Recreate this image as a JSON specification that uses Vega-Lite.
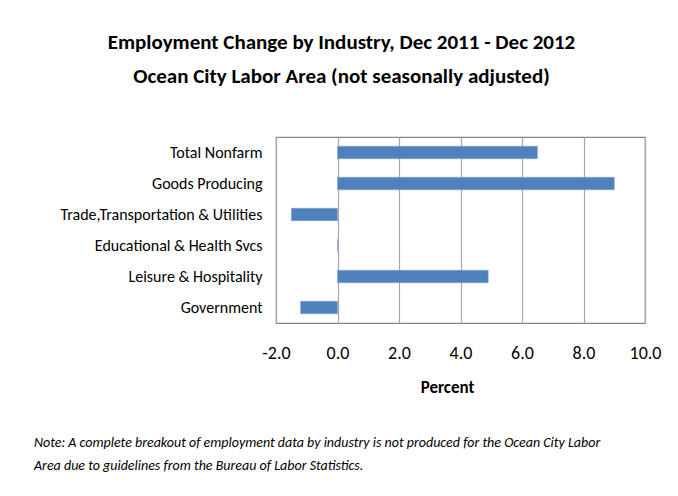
{
  "$schema": "https://vega.github.io/schema/vega-lite/v6.json",
  "background": "white",
  "padding": {"left": 33, "top": 32, "right": 30, "bottom": 10},
  "title": {
    "text": ["Employment Change by Industry, Dec 2011 - Dec 2012", "Ocean City Labor Area (not seasonally adjusted)"],
    "font": "Carlito, 'Liberation Sans Narrow', Lato, sans-serif",
    "fontSize": 21,
    "fontWeight": "bold",
    "color": "#000000",
    "lineHeight": 34,
    "anchor": "middle",
    "dx": -6,
    "offset": 49
  },
  "vconcat": [
    {
      "width": 369,
      "height": 186,
      "title": {
        "text": ["Note: A complete breakout of employment data by industry is not produced for the Ocean City Labor", "Area due to guidelines from the Bureau of Labor Statistics."],
        "orient": "bottom",
        "anchor": "start",
        "frame": "group",
        "dx": -242,
        "offset": 41,
        "font": "Carlito, 'Liberation Sans Narrow', Lato, sans-serif",
        "fontSize": 14,
        "fontStyle": "italic",
        "fontWeight": "normal",
        "color": "#000000",
        "lineHeight": 23
      },
      "data": {
        "values": [
          {"industry": "Total Nonfarm", "pct": 6.5},
          {"industry": "Goods Producing", "pct": 9.0},
          {"industry": "Trade,Transportation & Utilities", "pct": -1.5},
          {"industry": "Educational & Health Svcs", "pct": 0.0},
          {"industry": "Leisure & Hospitality", "pct": 4.9},
          {"industry": "Government", "pct": -1.2}
        ]
      },
      "mark": {"type": "bar", "color": "#4F81BD", "stroke": "#7DA2D2", "strokeWidth": 0.6},
      "encoding": {
        "y": {
          "field": "industry",
          "type": "nominal",
          "sort": null,
          "scale": {"paddingInner": 0.6, "paddingOuter": 0.3},
          "axis": {
            "title": null,
            "domain": false,
            "ticks": false,
            "labelPadding": 14,
            "labelFont": "Carlito, 'Liberation Sans Narrow', Lato, sans-serif",
            "labelFontSize": 16,
            "labelColor": "#000000",
            "labelLimit": 400
          }
        },
        "x": {
          "field": "pct",
          "type": "quantitative",
          "scale": {"domain": [-2, 10], "nice": false, "zero": false},
          "axis": {
            "title": "Percent",
            "values": [-2, 0, 2, 4, 6, 8, 10],
            "labelExpr": "replace(format(datum.value, '.1f'), '\u2212', '-')",
            "labelFlush": false,
            "domain": false,
            "ticks": false,
            "grid": true,
            "gridColor": "#A6A6A6",
            "gridWidth": 1.2,
            "gridOpacity": 1,
            "labelPadding": 21,
            "labelFont": "Carlito, 'Liberation Sans Narrow', Lato, sans-serif",
            "labelFontSize": 18,
            "labelColor": "#000000",
            "titleFont": "Carlito, 'Liberation Sans Narrow', Lato, sans-serif",
            "titleFontSize": 17,
            "titleFontWeight": "bold",
            "titleColor": "#000000",
            "titlePadding": 17,
            "titleX": 171,
            "titleAlign": "center"
          }
        }
      }
    }
  ],
  "config": {
    "view": {"stroke": "#868686", "strokeWidth": 1.2},
    "concat": {"spacing": 0}
  }
}
